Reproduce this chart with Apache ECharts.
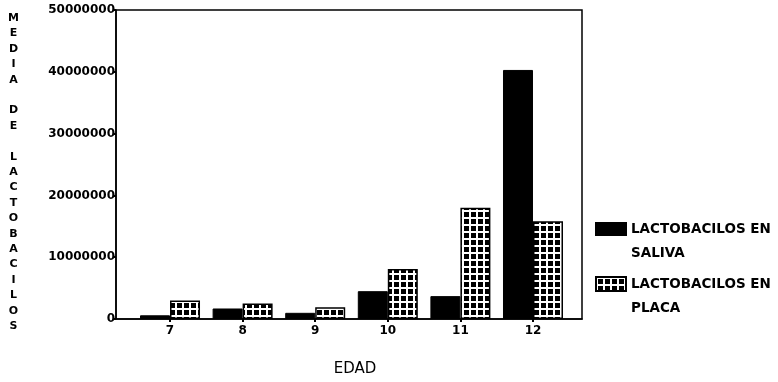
<!DOCTYPE html>
<html>
<head>
<meta charset="utf-8">
<script src="https://cdn.jsdelivr.net/npm/echarts@6/dist/echarts.min.js"></script>
<style>
  html, body { margin: 0; padding: 0; background: #fff; }
  #chart { width: 778px; height: 382px; }
</style>
</head>
<body>
<div id="chart"></div>
<script>
// Ages (EDAD) on the x axis
const ages = [7, 8, 9, 10, 11, 12];
// Mean lactobacilli counts per age
const salivaValues = [600000, 1700000, 1000000, 4500000, 3700000, 40300000];
const placaValues = [3000000, 2500000, 1900000, 8100000, 18000000, 15800000];
// Y axis tick values
const yTicks = [0, 10000000, 20000000, 30000000, 40000000, 50000000];

const salivaName = 'LACTOBACILOS EN\nSALIVA';
const placaName = 'LACTOBACILOS EN\nPLACA';

// Black cells separated by a white grid, for the plaque bars
function gridPattern() {
  const c = document.createElement('canvas');
  c.width = 7; c.height = 7;
  const g = c.getContext('2d');
  g.fillStyle = '#000';
  g.fillRect(0, 0, 7, 7);
  g.fillStyle = '#fff';
  g.fillRect(0, 0, 2, 7);
  g.fillRect(0, 0, 7, 2);
  return c;
}
const pattern = { image: gridPattern(), repeat: 'repeat' };

const font = 'DejaVu Sans';
// Vertical title: one letter per line, a blank line between words
const yTitle = '\n' + 'MEDIA DE LACTOBACILOS'.split('').map(ch => ch === ' ' ? '' : ch).join('\n');

const chart = echarts.init(document.getElementById('chart'), null, { renderer: 'canvas' });

const legendText = {
  fontFamily: font, fontWeight: 'bold', fontSize: 13.5, color: '#000',
  lineHeight: 24
};
// Leading blank line keeps the first line of each entry level with its swatch
const legendFormatter = name => '\n' + name;

chart.setOption({
  animation: false,
  backgroundColor: '#fff',
  grid: {
    left: 116, right: 196, top: 10, bottom: 63,
    outerBoundsMode: 'none',
    show: true, borderColor: '#000', borderWidth: 1.5, backgroundColor: 'transparent'
  },
  legend: [
    {
      data: [salivaName], left: 595, top: 193, padding: 0,
      icon: 'rect', itemWidth: 30, itemHeight: 12, itemGap: 3,
      formatter: legendFormatter,
      textStyle: legendText, selectedMode: false
    },
    {
      data: [placaName], left: 595, top: 248, padding: 0,
      icon: 'rect', itemWidth: 30, itemHeight: 14, itemGap: 3,
      formatter: legendFormatter,
      textStyle: legendText, selectedMode: false
    }
  ],
  xAxis: {
    type: 'value',
    min: 6.256, max: 12.675,
    name: 'EDAD',
    nameLocation: 'middle',
    nameGap: 50,
    nameTextStyle: {
      fontFamily: font, fontSize: 15, color: '#000',
      verticalAlign: 'middle', padding: [0, 0, 0, 12]
    },
    axisLine: { show: true, lineStyle: { color: '#000', width: 1.5 } },
    axisTick: {
      show: true, length: 3, customValues: ages,
      lineStyle: { color: '#000', width: 2 }
    },
    axisLabel: {
      customValues: ages, margin: 6,
      fontFamily: font, fontWeight: 'bold', fontSize: 12, color: '#000'
    },
    splitLine: { show: false }
  },
  yAxis: {
    type: 'value',
    min: 0, max: 50000000, interval: 10000000,
    name: yTitle,
    nameLocation: 'middle',
    nameRotate: 0,
    nameGap: 102.5,
    nameTextStyle: {
      fontFamily: font, fontWeight: 'bold', fontSize: 11, color: '#000',
      align: 'center', verticalAlign: 'middle', lineHeight: 15.4
    },
    axisLine: { show: true, lineStyle: { color: '#000', width: 1.5 } },
    axisTick: { show: true, length: 3, lineStyle: { color: '#000', width: 2 } },
    axisLabel: {
      margin: 1,
      fontFamily: font, fontWeight: 'bold', fontSize: 12, color: '#000',
      customValues: yTicks,
      formatter: v => String(v)
    },
    splitLine: { show: false }
  },
  series: [
    {
      name: salivaName,
      type: 'bar',
      barWidth: 30,
      barGap: '0%',
      data: ages.map((a, i) => [a, salivaValues[i]]),
      itemStyle: { color: '#000', borderColor: '#000', borderWidth: 1 }
    },
    {
      name: placaName,
      type: 'bar',
      barWidth: 30,
      barGap: '0%',
      data: ages.map((a, i) => [a, placaValues[i]]),
      itemStyle: { color: pattern, borderColor: '#000', borderWidth: 1.5 }
    }
  ]
});
</script>
</body>
</html>
